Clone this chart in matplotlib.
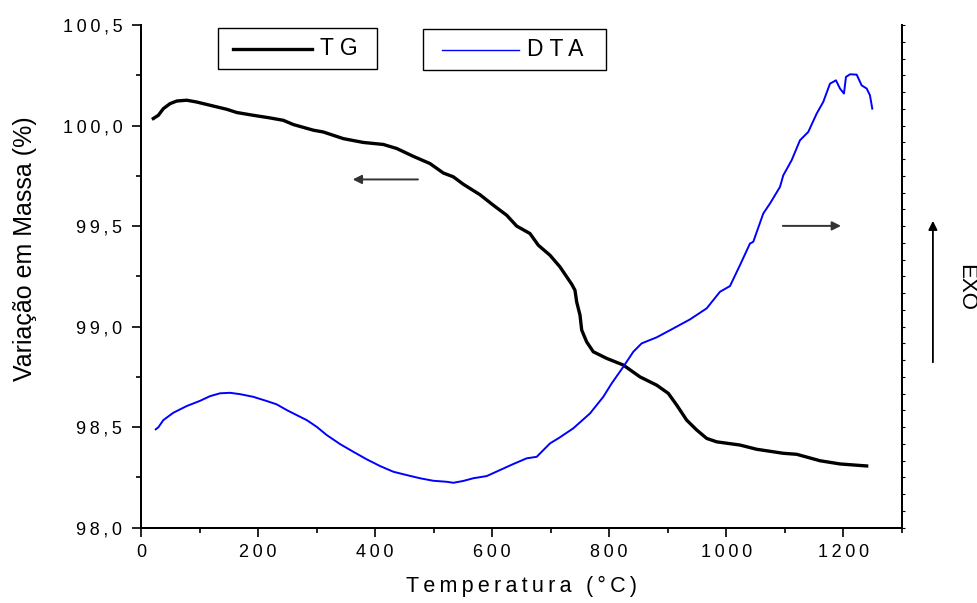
import matplotlib
matplotlib.use("Agg")
import matplotlib.pyplot as plt
from matplotlib.ticker import MultipleLocator, FuncFormatter
from matplotlib.patches import Rectangle
from matplotlib.lines import Line2D

plt.rcParams["font.family"] = ["Liberation Sans", "DejaVu Sans"]

# TG: variação de massa (%) x temperatura (°C)
tg_temp = [21, 29.6, 38.1, 49.6, 61, 78.1, 95.2, 117.9, 146.4, 163.5, 191.9, 220.4,
           243.2, 260.3, 294.4, 311.5, 345.7, 379.9, 414, 436.9, 465.3, 493.8, 516.6,
           533.7, 550.8, 579.3, 602, 624.9, 642, 664.7, 678.9, 698.9, 716, 736, 741.6,
           744.5, 750.2, 753.1, 761.6, 772.9, 795.8, 824.2, 852.7, 881.2, 901.1, 915.4,
           932.5, 949.6, 966.7, 983.8, 1023.6, 1052.1, 1097.6, 1120.5, 1160.3, 1194.5,
           1240.1]
tg_mass = [100.035, 100.051, 100.084, 100.109, 100.122, 100.126, 100.117, 100.101,
           100.081, 100.065, 100.051, 100.038, 100.026, 100.005, 99.977, 99.968, 99.935,
           99.916, 99.906, 99.886, 99.847, 99.811, 99.764, 99.745, 99.708, 99.656, 99.604,
           99.554, 99.500, 99.463, 99.405, 99.355, 99.297, 99.211, 99.181, 99.123, 99.057,
           98.983, 98.924, 98.875, 98.842, 98.809, 98.750, 98.709, 98.668, 98.610, 98.535,
           98.486, 98.444, 98.427, 98.411, 98.390, 98.370, 98.365, 98.333, 98.317, 98.307]

# DTA (unidades arbitrárias)
dta_temp = [25.1, 29.6, 38.1, 55.2, 78.1, 100.8, 117.9, 135, 152.1, 169.2, 191.9, 214.8,
            231.9, 249, 266, 283.2, 300.2, 317.3, 340.1, 362.8, 385.7, 408.4, 431.1, 454,
            476.8, 499.5, 522.4, 533.7, 550.8, 567.8, 590.7, 613.5, 636.2, 659.1, 676.2,
            698.9, 714.8, 738.7, 767.3, 790, 804.3, 824.2, 841.3, 855.6, 881.2, 909.6,
            938.1, 966.7, 989.4, 1006.5, 1023.6, 1040.7, 1046.3, 1063.4, 1074.9, 1092,
            1097.6, 1111.9, 1126.1, 1140.3, 1154.6, 1165.9, 1177.4, 1187.6, 1194.5, 1201.3,
            1204.7, 1211.6, 1223, 1231.5, 1240.1, 1245.7, 1249.7]
dta_signal = [5.87, 5.99, 6.42, 6.86, 7.26, 7.57, 7.85, 8.02, 8.05, 7.97, 7.81, 7.56,
              7.36, 7.02, 6.72, 6.42, 6.02, 5.53, 4.99, 4.53, 4.08, 3.68, 3.34, 3.14,
              2.95, 2.80, 2.74, 2.68, 2.79, 2.95, 3.08, 3.44, 3.80, 4.14, 4.23, 5.03,
              5.37, 5.93, 6.82, 7.81, 8.61, 9.60, 10.50, 11.00, 11.36, 11.89, 12.43,
              13.09, 14.08, 14.42, 15.67, 16.96, 17.06, 18.75, 19.35, 20.34, 21.03,
              21.93, 23.12, 23.62, 24.71, 25.41, 26.50, 26.70, 26.21, 25.91, 26.90,
              27.06, 27.04, 26.40, 26.21, 25.81, 25.01]

W, H = 978, 603


def spaced(s, gap="\u2009"):
    # espaçamento entre letras, como no gráfico original do Origin
    return gap.join(s)


fig = plt.figure(figsize=(W / 100, H / 100), dpi=100)
ax = fig.add_axes([0.1442, 0.1249, 0.7778, 0.8336])
ax2 = ax.twinx()

ax.plot(tg_temp, tg_mass, color="black", lw=2.4, solid_joinstyle="round")
ax2.plot(dta_temp, dta_signal, color="#0000ff", lw=1.4)

ax.set_xlim(0, 1300)
ax.set_ylim(98.0, 100.5)
ax2.set_ylim(0, 30)

ax.xaxis.set_major_locator(MultipleLocator(200))
ax.xaxis.set_minor_locator(MultipleLocator(100))
ax.yaxis.set_major_locator(MultipleLocator(0.5))
ax.yaxis.set_minor_locator(MultipleLocator(0.25))
ax.xaxis.set_major_formatter(FuncFormatter(lambda v, p: spaced(f"{v:.0f}")))
ax.yaxis.set_major_formatter(FuncFormatter(lambda v, p: spaced(f"{v:.1f}".replace(".", ","))))

ax.tick_params(which="major", direction="out", length=6.5, width=1.2, labelsize=13, pad=5)
ax.tick_params(which="minor", direction="out", length=3.6, width=1.2)
ax.tick_params(axis="y", pad=7)

ax2.yaxis.set_major_locator(MultipleLocator(1))
ax2.tick_params(axis="y", direction="out", length=2, width=0.8, labelright=False)

for a in (ax, ax2):
    a.spines["top"].set_visible(False)
    for s in ("left", "bottom", "right"):
        a.spines[s].set_linewidth(1.4)

ax.set_xlabel(spaced("Temperatura (°C)"), fontsize=15.5)
ax.xaxis.set_label_coords(0.5, -0.095)
ax.set_ylabel("Variação em Massa (%)", fontsize=18)
ax.yaxis.set_label_coords(-0.137, 0.556)


def legend_box(x0, y0, x1, y1, line_x0, line_x1, color, lw, label, size):
    # caixa de legenda desenhada em pixels (origem no canto superior esquerdo)
    fx = lambda x: x / W
    fy = lambda y: 1 - y / H
    fig.add_artist(Rectangle((fx(x0), fy(y1)), fx(x1) - fx(x0), fy(y0) - fy(y1),
                             transform=fig.transFigure, fill=False,
                             edgecolor="black", lw=1.0))
    yc = (y0 + y1) / 2
    fig.add_artist(Line2D([fx(line_x0), fx(line_x1)], [fy(yc), fy(yc)],
                          transform=fig.transFigure, color=color, lw=lw))
    fig.text(fx(line_x1 + 8), fy(yc), label, fontsize=size, ha="left", va="center")


legend_box(218, 28, 377, 69, 233, 312, "black", 2.4, "T G", 16.5)
legend_box(423, 29, 606, 70, 442, 519, "#0000ff", 1.0, "D T A", 16.5)

# setas indicando o eixo de cada curva
arrow = dict(arrowstyle="-|>", color="#333333", lw=1.4, mutation_scale=13)
ax.annotate("", xy=(357, 99.732), xytext=(478, 99.732), arrowprops=arrow)
ax.annotate("", xy=(1201, 99.501), xytext=(1092, 99.501), arrowprops=arrow)
ax.annotate("", xy=(1.041, 0.616), xytext=(1.041, 0.3235), xycoords="axes fraction",
            arrowprops=dict(arrowstyle="-|>", color="black", lw=1.3, mutation_scale=13),
            annotation_clip=False)
ax.text(1.0835, 0.478, "EXO", transform=ax.transAxes, rotation=-90, fontsize=16,
        ha="center", va="center")

fig.savefig("out.png", dpi=100)
